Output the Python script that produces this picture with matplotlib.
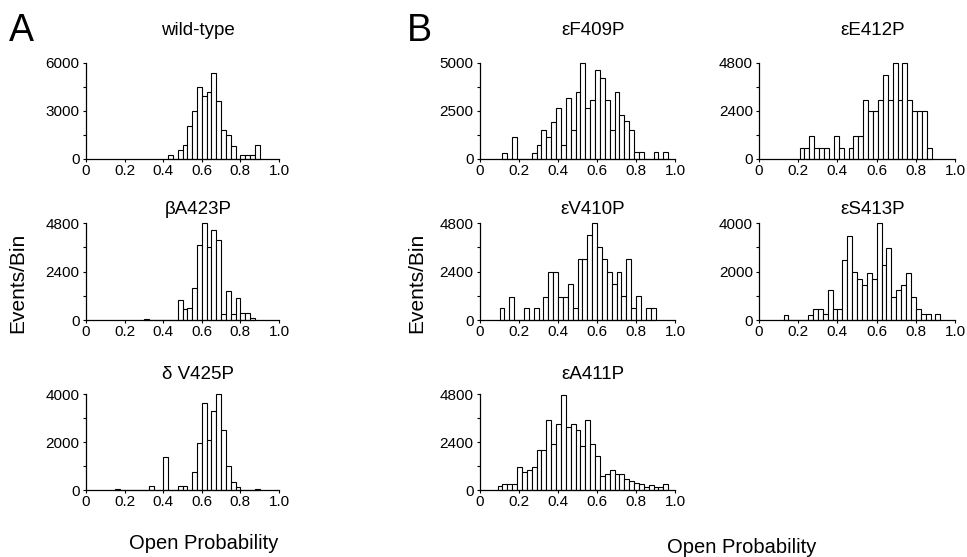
import numpy as np
import matplotlib
matplotlib.use("Agg")
import matplotlib.pyplot as plt

plt.rcParams['font.family'] = ['Liberation Sans', 'DejaVu Sans']

bin_width = 0.025

# left edge of first bin + events per bin (0.025 wide bins)
wt_start = 0.425
wt_counts = [270, 0, 580, 890, 2070, 3000, 4510, 3930, 4200, 5400, 3620, 1820,
             1470, 830, 0, 230, 230, 230, 870]

ba423_start = 0.3
ba423_counts = [60, 0, 0, 0, 0, 0, 0, 990, 540, 610, 1560, 3700, 4800, 3620,
                4470, 3980, 280, 1430, 280, 1070, 360, 360, 80]

dv425_start = 0.15
dv425_counts = [60, 0, 0, 0, 0, 0, 0, 150, 0, 0, 1380, 0, 0, 150, 150, 0, 730,
                1970, 3630, 2080, 3300, 4000, 2520, 1020, 320, 115, 0, 0, 0, 50]

ef409_start = 0.115
ef409_counts = [310, 0, 1150, 0, 0, 0, 310, 730, 1490, 1150, 1910, 2660, 730,
                3200, 1490, 3470, 5000, 2660, 3060, 4620, 4230, 3060, 1530, 3490,
                2310, 1960, 1530, 350, 350, 0, 0, 350, 0, 350]

ee412_start = 0.207
ee412_counts = [550, 550, 1130, 550, 550, 550, 0, 1130, 550, 0, 550, 1130, 1130,
                2970, 2400, 2400, 2970, 4220, 2970, 4800, 2970, 4800, 2970, 2400,
                2400, 2400, 550]

ev410_start = 0.1
ev410_counts = [570, 0, 1150, 0, 0, 570, 0, 570, 0, 1150, 2400, 2400, 1150, 1150,
                1800, 600, 3000, 3000, 4230, 4800, 3600, 3000, 2400, 1780, 2400,
                1170, 3000, 600, 1170, 0, 600, 600]

es413_start = 0.125
es413_counts = [200, 0, 0, 0, 0, 200, 450, 450, 240, 1250, 450, 450, 2490, 3450,
                2000, 1700, 1430, 1930, 1700, 4000, 2250, 2960, 950, 1250, 1430,
                1930, 950, 450, 250, 250, 0, 250]

ea411_start = 0.09
ea411_counts = [180, 320, 320, 320, 1150, 890, 980, 1150, 1980, 1980, 3500, 2310,
                3290, 4760, 3160, 3290, 2990, 2200, 3500, 2310, 1690, 710, 800, 980,
                800, 800, 530, 440, 360, 320, 140, 270, 140, 140, 320]

xticks = [0, 0.2, 0.4, 0.6, 0.8, 1.0]
xtick_labels = ["0", "0.2", "0.4", "0.6", "0.8", "1.0"]

W, H = 967, 557
fig = plt.figure(figsize=(W / 100, H / 100), dpi=100)


def panel(left, top, right, bottom, title, start, counts, ymax, pad):
    ax = fig.add_axes([left / W, 1 - bottom / H, (right - left) / W, (bottom - top) / H])
    edges = start + bin_width * np.arange(len(counts))
    ax.bar(edges, counts, width=bin_width, align='edge', facecolor='white',
           edgecolor='black', linewidth=0.8, clip_on=False)
    ax.set_xlim(0, 1.0)
    ax.set_ylim(0, ymax)
    ax.set_xticks(xticks)
    ax.set_xticklabels(xtick_labels)
    ax.set_yticks([0, ymax / 2, ymax])
    ax.set_yticklabels([str(int(v)) for v in [0, ymax / 2, ymax]])
    ax.set_yticks([ymax / 4, 3 * ymax / 4], minor=True)
    for s in ['top', 'right']:
        ax.spines[s].set_visible(False)
    for s in ['left', 'bottom']:
        ax.spines[s].set_linewidth(0.9)
    ax.tick_params(axis='both', which='both', direction='out', width=0.8,
                   labelsize=11)
    ax.tick_params(axis='y', which='both', length=2.5, pad=2)
    ax.tick_params(axis='x', which='major', length=2, pad=1.5)
    ax.set_title(title, fontsize=13.5, pad=pad, x=0.58)
    return ax


colA = (86, 279)
colB1 = (480, 675)
colB2 = (759, 955)
row1 = (63, 159)
row2 = (223, 320)
row3 = (394, 490)

panel(colA[0], row1[0], colA[1], row1[1], "wild-type", wt_start, wt_counts, 6000, 20.5)
panel(colA[0], row2[0], colA[1], row2[1], "βA423P", ba423_start, ba423_counts, 4800, 6.8)
panel(colA[0], row3[0], colA[1], row3[1], "δ V425P", dv425_start, dv425_counts, 4000, 10.6)
panel(colB1[0], row1[0], colB1[1], row1[1], "εF409P", ef409_start, ef409_counts, 5000, 20.5)
panel(colB2[0], row1[0], colB2[1], row1[1], "εE412P", ee412_start, ee412_counts, 4800, 20.5)
panel(colB1[0], row2[0], colB1[1], row2[1], "εV410P", ev410_start, ev410_counts, 4800, 6.8)
panel(colB2[0], row2[0], colB2[1], row2[1], "εS413P", es413_start, es413_counts, 4000, 6.8)
panel(colB1[0], row3[0], colB1[1], row3[1], "εA411P", ea411_start, ea411_counts, 4800, 10.6)

fig.text(9 / W, 1 - 41 / H, "A", fontsize=27, ha='left', va='baseline')
fig.text(407 / W, 1 - 41 / H, "B", fontsize=27, ha='left', va='baseline')

fig.text(18 / W, 1 - 283 / H, "Events/Bin", fontsize=15, rotation=90,
         ha='center', va='center')
fig.text(417 / W, 1 - 283 / H, "Events/Bin", fontsize=15, rotation=90,
         ha='center', va='center')

fig.text(204 / W, 1 - 549 / H, "Open Probability", fontsize=14.5,
         ha='center', va='baseline')
fig.text(742 / W, 1 - 553 / H, "Open Probability", fontsize=14.5,
         ha='center', va='baseline')

fig.savefig("out.png", dpi=100)
